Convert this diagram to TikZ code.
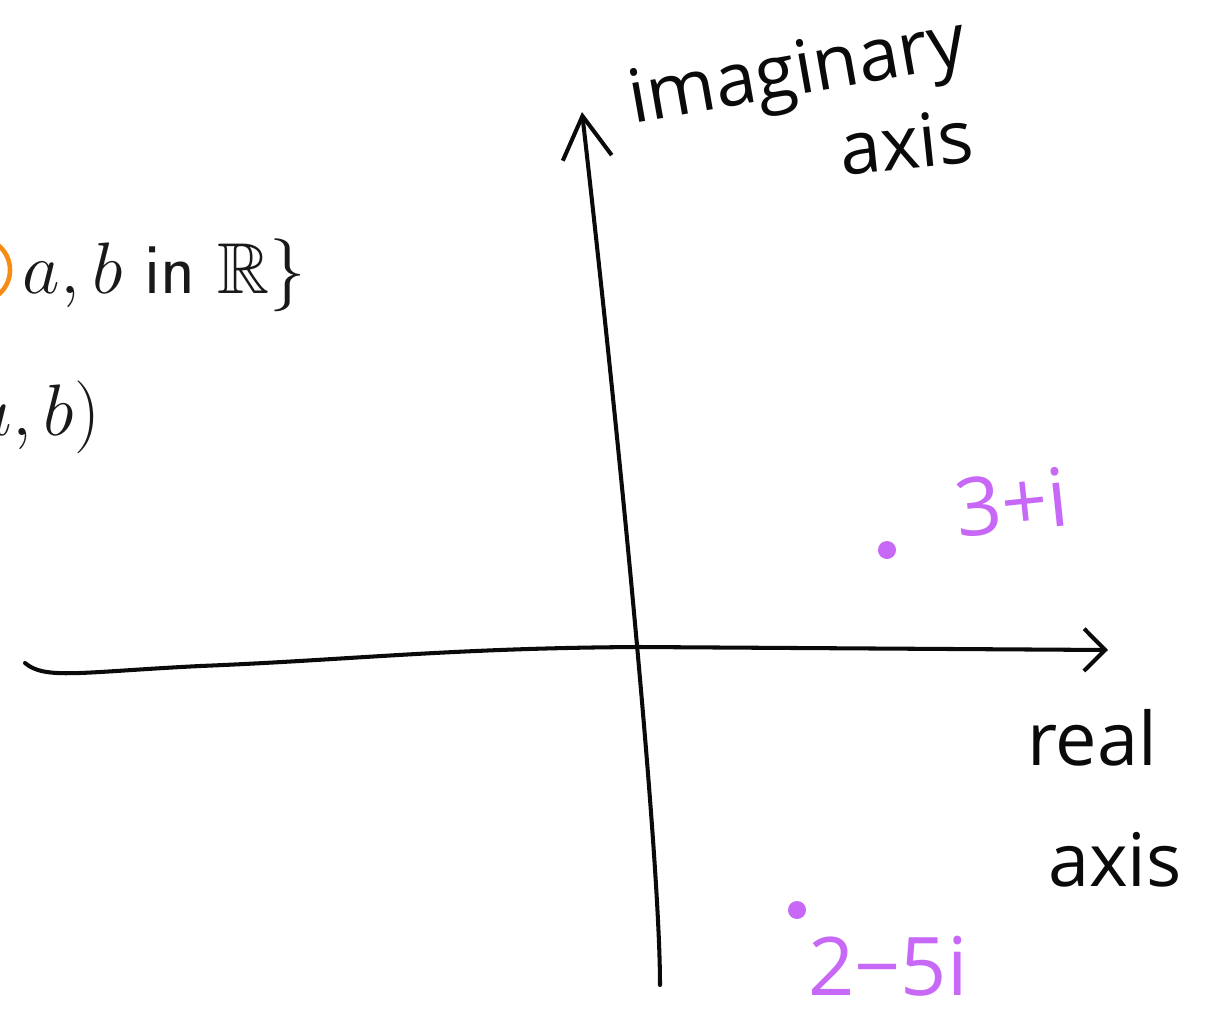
\documentclass[tikz,border=0pt]{standalone}
\usepackage{amssymb}
\usepackage{fontspec}
\usepackage{tikz}
\usetikzlibrary{arrows.meta, positioning}
\newfontfamily\handfont{Open Sans}
\definecolor{inkblack}{RGB}{10,10,10}
\definecolor{inkpurple}{RGB}{199,104,246}
\definecolor{inkorange}{RGB}{247,140,20}
\tikzset{
  axis/.style={line width=1.15pt, color=inkblack, line cap=round, line join=round},
  hand/.style={font=\handfont\fontsize{21}{23}\selectfont, color=inkblack, inner sep=0pt, align=center},
  handpurple/.style={font=\handfont\fontsize{23}{25}\selectfont, color=inkpurple, inner sep=0pt},
  printed/.style={font=\fontsize{20.5}{23}\selectfont, inner sep=0pt, color=black!90},
  dot/.style={circle, fill=inkpurple, inner sep=0pt, minimum size=1.8mm}
}

\begin{document}
\begin{tikzpicture}[x=0.01cm, y=-0.01cm]
  % Page frame
  \clip (0,0) rectangle (1220,1017);

  % Printed set notation, cut at the left edge
  \draw[inkorange, line width=1.3pt] (-22,270) circle (32);
  \node[printed, anchor=base west] (setline) at (22,293) {$a, b$ \textsf{in} $\mathbb{R}\}$};
  \node[printed, anchor=base east] (pairline) at (101,435) {$(a, b)$};

  % Axes
  \coordinate (re0) at (25,663);
  \coordinate (re1) at (1108,650);
  \coordinate (im0) at (660,985);
  \coordinate (im1) at (582,112);
  \draw[axis, -{Straight Barb[length=6pt, width=12pt]}]
    (re0) .. controls (45,680) and (80,672) .. (200,666)
          .. controls (350,660) and (450,648) .. (640,647) -- (re1);
  \draw[axis, -{Straight Barb[length=12pt, width=14pt]}]
    (im0) .. controls (660,850) and (615,400) .. (im1);

  % Axis labels
  \node[hand, rotate=10] (imlabel) at (798,76) {imaginary};
  \node[hand, rotate=6] (imaxis) at (906,142) {axis};
  \node[hand] (relabel) at (1092,738) {real};
  \node[hand] (reaxis) at (1115,860) {axis};

  % Points
  \node[dot] (p1) at (887,550) {};
  \node[dot] (p2) at (797,910) {};
  \node[handpurple, rotate=6] (p1label) at (1012,502) {3+i};
  \node[handpurple] (p2label) at (888,966) {2−5i};
\end{tikzpicture}
\end{document}
